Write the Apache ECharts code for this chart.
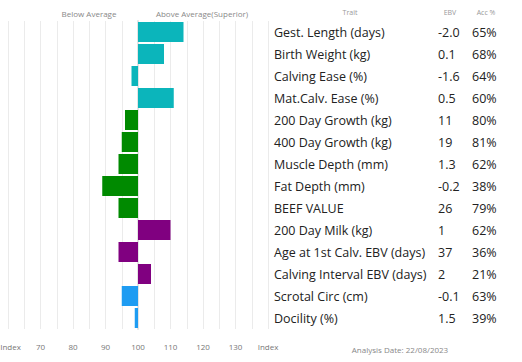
<!DOCTYPE html>
<html><head><meta charset="utf-8">
<script src="https://cdn.jsdelivr.net/npm/echarts@6/dist/echarts.min.js"></script>
<style>html,body{margin:0;padding:0;background:#fff}#c{width:522px;height:362px}</style>
</head><body><div id="c"></div>
<script>
var traits = ['Gest. Length (days)','Birth Weight (kg)','Calving Ease (%)','Mat.Calv. Ease (%)','200 Day Growth (kg)','400 Day Growth (kg)','Muscle Depth (mm)','Fat Depth (mm)','BEEF VALUE','200 Day Milk (kg)','Age at 1st Calv. EBV (days)','Calving Interval EBV (days)','Scrotal Circ (cm)','Docility (%)'];
var ebv = ['-2.0','0.1','-1.6','0.5','11','19','1.3','-0.2','26','1','37','2','-0.1','1.5'];
var acc = ['65%','68%','64%','60%','80%','81%','62%','38%','79%','62%','36%','21%','63%','39%'];
var indexValues = [114,108,98,111,96,95,94,89,94,110,94,104,95,99];
var groupColors = ['#0bb5bb','#0bb5bb','#0bb5bb','#0bb5bb','#008a00','#008a00','#008a00','#008a00','#008a00','#800080','#800080','#800080','#1e9cf2','#1e9cf2'];
var tickLabels = {'-40':'{m|Index}','-30':'70','-20':'80','-10':'90','0':'100','10':'110','20':'120','30':'130','40':'Index'};
var baseIndex = 100;

var chart = echarts.init(document.getElementById('c'), null, {renderer:'svg'});
var ff = '"Open Sans", sans-serif';
chart.setOption({
  animation:false,
  grid:{left:8, right:254, top:21, height:308, outerBoundsMode:'none', containLabel:false},
  xAxis:{type:'value', min:-40, max:40, interval:5,
    axisLine:{show:false}, axisTick:{show:false},
    splitLine:{show:true, lineStyle:{color:'#ebebeb', width:1}},
    axisLabel:{margin:13, color:'#777', fontSize:8, fontFamily:ff,
      rich:{m:{padding:[0,0,0,5], color:'#777', fontSize:8, fontFamily:ff}},
      formatter:function(v){ return tickLabels[String(v)] || ''; }}
  },
  yAxis:{type:'category', inverse:true, data:traits, position:'right',
    axisLine:{show:true, lineStyle:{color:'#e4e4e4', width:2}},
    axisTick:{show:false}, splitLine:{show:false},
    axisLabel:{margin:6, align:'left', fontFamily:ff,
      formatter:function(v, i){ return '{t|'+v+'}{e|'+ebv[i]+'}{a|'+acc[i]+'}'; },
      rich:{
        t:{width:164, fontSize:12.5, color:'#222', fontFamily:ff},
        e:{width:34, fontSize:12.5, color:'#222', fontFamily:ff},
        a:{width:40, fontSize:12.5, color:'#222', fontFamily:ff}
      }}
  },
  series:[{type:'bar', barCategoryGap:'9%',
    data:indexValues.map(function(v,i){ return {value:v-baseIndex, itemStyle:{color:groupColors[i]}}; })
  }],
  graphic:[
    {type:'text', style:{text:'Below Average', fill:'#888', font:'8px '+ff, textAlign:'center', textVerticalAlign:'middle'}, position:[89,13]},
    {type:'text', style:{text:'Above Average(Superior)', fill:'#888', font:'8px '+ff, textAlign:'center', textVerticalAlign:'middle'}, position:[202,13]},
    {type:'text', style:{text:'Trait', fill:'#999', font:'7px '+ff, textAlign:'center', textVerticalAlign:'middle'}, position:[350,12]},
    {type:'text', style:{text:'EBV', fill:'#999', font:'7px '+ff, textAlign:'center', textVerticalAlign:'middle'}, position:[450,12]},
    {type:'text', style:{text:'Acc %', fill:'#999', font:'7px '+ff, textAlign:'center', textVerticalAlign:'middle'}, position:[486,12]},
    {type:'text', style:{text:'Analysis Date: 22/08/2023', fill:'#888', font:'8px '+ff, textAlign:'center', textVerticalAlign:'middle'}, position:[400,349]}
  ]
});
</script></body></html>
